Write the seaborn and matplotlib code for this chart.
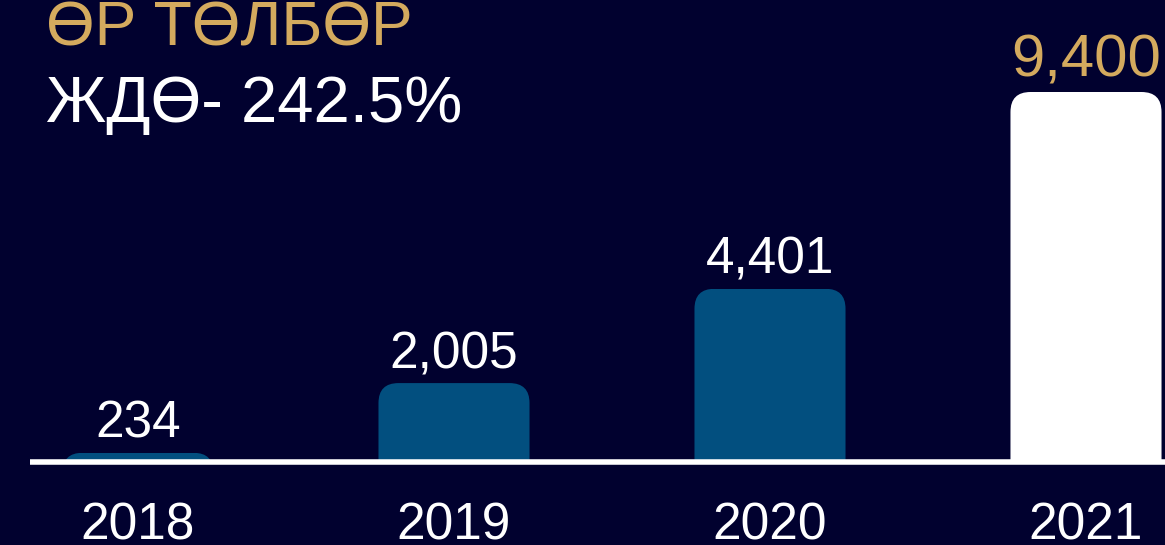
import matplotlib
matplotlib.use("Agg")
import matplotlib.pyplot as plt
import seaborn as sns
from matplotlib.patches import FancyBboxPatch, Rectangle

# data
years = ["2018", "2019", "2020", "2021"]
values = [234, 2005, 4401, 9400]
bar_colors = ["#024f7f", "#024f7f", "#024f7f", "#ffffff"]
label_colors = ["#ffffff", "#ffffff", "#ffffff", "#d4aa5e"]
label_sizes = [37, 37, 37, 43]
title_1 = "ӨР ТӨЛБӨР"
title_2 = "ЖДӨ- 242.5%"

BG = "#01012f"
GOLD = "#d4aa5e"
FONTS = ["Liberation Sans", "DejaVu Sans"]

sns.set_theme(style="white")
plt.rcParams["font.family"] = FONTS

W, H = 1165, 545
fig = plt.figure(figsize=(W / 100, H / 100), dpi=100, facecolor=BG)
ax = fig.add_axes([0, 0, 1, 1])
ax.set_facecolor(BG)

sns.barplot(x=years, y=values, hue=years, palette=bar_colors, legend=False,
            width=0.478, ax=ax, saturation=1)

# pixel geometry: bar centres at 138 + 316*i, baseline 462 px from top, 9400 -> 370 px
px_x = 316.0
px_y = 370.0 / 9400.0
base_px = 462
ax.set_xlim(-138 / px_x, (W - 138) / px_x)
ax.set_ylim(-(H - base_px) / px_y, base_px / px_y)

# swap plain bars for bars with rounded top corners
r_px = 20
r_x = r_px / px_x
aspect = (r_px / px_y) / r_x
for p in list(ax.patches):
    x0, w, h = p.get_x(), p.get_width(), p.get_height()
    col = p.get_facecolor()
    p.remove()
    pad = r_px / px_y
    box = FancyBboxPatch((x0, -pad), w, h + pad,
                         boxstyle=f"round,pad=0,rounding_size={r_x}",
                         mutation_aspect=aspect, fc=col, ec="none", zorder=2)
    ax.add_patch(box)
    clip = Rectangle((x0, 0), w, h + 1, transform=ax.transData)
    box.set_clip_path(clip)

# baseline
ax.axhline(0, xmin=30 / W, xmax=1, color="white", lw=4, zorder=3,
           solid_capstyle="butt")

# value labels and year labels
for i, v in enumerate(values):
    ax.text(i, v + 15 / px_y, f"{v:,}", ha="center", va="baseline",
            fontsize=label_sizes[i], color=label_colors[i])
    ax.text(i, -77 / px_y, years[i], ha="center", va="baseline",
            fontsize=37, color="white")

fig.text(46 / W, 1 - 46 / H, title_1, ha="left", va="baseline",
         fontsize=45, color=GOLD)
fig.text(46 / W, 1 - 122 / H, title_2, ha="left", va="baseline",
         fontsize=47, color="white")

ax.set_xlabel("")
ax.set_ylabel("")
ax.set_xticks([])
ax.set_yticks([])
for s in ax.spines.values():
    s.set_visible(False)

fig.savefig("out.png", dpi=100, facecolor=BG)
